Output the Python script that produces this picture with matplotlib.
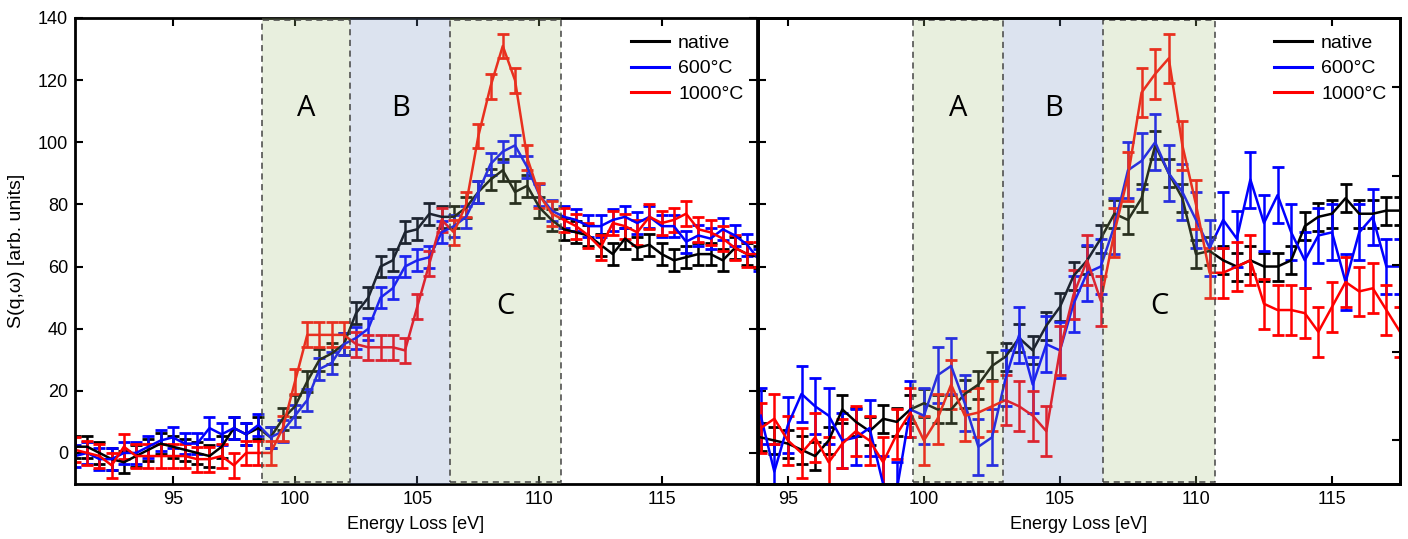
import matplotlib.pyplot as plt
from matplotlib.patches import Rectangle
from matplotlib.lines import Line2D
import numpy as np

plt.rcParams['font.family'] = ['Liberation Sans', 'DejaVu Sans']

# left panel: energy grid and spectra
e_left = np.arange(91.0, 119.01, 0.5)
native_left = [2, 2, 0, -2, -3, -1, 1, 3, 2, 1, 0, -1, 2, 8, 6, 8, 5, 11, 15, 23,
               30, 32, 35, 45, 50, 60, 62, 71, 72, 77, 76, 76, 79, 84, 88, 91, 84, 86, 79, 75,
               72, 71, 70, 67, 64, 69, 66, 67, 64, 62, 63, 64, 64, 62, 66, 64, 63]
t600_left = [-1, 0, -2, -2, 0, 0, 2, 4, 5, 3, 3, 8, 6, 8, 6, 9, 5, 7, 12, 17,
             27, 29, 35, 37, 40, 50, 53, 60, 62, 63, 71, 73, 76, 84, 93, 97, 99, 92, 83, 78,
             76, 75, 73, 73, 75, 76, 74, 76, 73, 73, 68, 70, 69, 72, 70, 67, 62]
t1000_left = [1, 0, -1, -4, 2, -1, -1, -1, -1, -1, -2, -2, -1, -4, 0, 0, 0, 8, 23, 38,
              38, 38, 38, 35, 34, 34, 34, 33, 47, 61, 75, 71, 80, 102, 118, 131, 120, 95, 83, 77,
              75, 73, 70, 66, 74, 73, 71, 76, 74, 75, 77, 72, 71, 69, 66, 64, 64]
err_left = [3.5, 3.5, 4.0]

# right panel
e_right = np.arange(94.0, 117.51, 0.5)
native_right = [5, 4, 3, 1, -1, 4, 14, 10, 7, 11, 10, 14, 16, 14, 14, 19, 22, 28, 31, 37,
                33, 41, 47, 57, 62, 69, 77, 75, 82, 99, 90, 82, 64, 65, 62, 60, 62, 60, 60, 62,
                73, 76, 77, 82, 77, 77, 78, 78]
t600_right = [12, -6, 9, 19, 15, 12, 4, 5, 8, -10, -12, 14, 12, 25, 28, 16, 2, 5, 24, 38,
              22, 35, 33, 48, 58, 60, 73, 91, 94, 100, 90, 84, 75, 66, 75, 69, 88, 74, 83, 71,
              62, 70, 71, 55, 71, 76, 60, 60]
t1000_right = [8, 11, 4, 0, 5, -3, 3, 7, 4, -3, 6, 13, 4, 11, 22, 12, 13, 15, 17, 15,
               12, 7, 33, 51, 62, 49, 71, 89, 116, 122, 127, 99, 80, 58, 58, 60, 62, 48, 46, 46,
               45, 39, 47, 55, 52, 53, 46, 39]
err_right = [4.5, 9.0, 8.0]

labels = ['native', '600°C', '1000°C']
colors = ['black', '#0000ff', '#ff0000']

regions_left = [(98.65, 102.25), (102.25, 106.35), (106.35, 110.9)]
regions_right = [(99.6, 102.9), (102.9, 106.6), (106.6, 110.7)]
region_names = ['A', 'B', 'C']
region_y = [111, 111, 47]

fig = plt.figure(figsize=(14.08, 5.39), dpi=100)
ax1 = fig.add_axes([75 / 1408, 55 / 539, 682 / 1408, 466 / 539])
ax2 = fig.add_axes([758 / 1408, 55 / 539, 642 / 1408, 466 / 539])


def draw_panel(ax, e, series, errs, regions):
    for ys, err, c in zip(series, errs, colors):
        ax.errorbar(e, ys, yerr=err, color=c, lw=1.8, elinewidth=1.8, capsize=4.5,
                    capthick=2, zorder=2)
    fills = ['#a7c37f', '#7793c3', '#a7c37f']
    for i, (x0, x1) in enumerate(regions):
        ax.axvspan(x0, x1, color=fills[i], alpha=0.25, lw=0, zorder=3)
        if i != 1:
            ax.add_patch(Rectangle((x0, -9.3), x1 - x0, 148.8, fill=False, ls=(0, (4, 3)),
                                   ec='#444444', lw=1.1, zorder=4))
        ax.text((x0 + x1) / 2, region_y[i], region_names[i], fontsize=21,
                family='Open Sans', ha='center', va='center', zorder=5)
    ax.set_ylim(-10, 140)
    ax.set_xticks([95, 100, 105, 110, 115])
    ax.tick_params(direction='in', top=True, right=True, length=6, width=1.5,
                   labelsize=13, pad=5)
    for s in ax.spines.values():
        s.set_linewidth(2)
    ax.set_xlabel('Energy Loss [eV]', fontsize=13, labelpad=6)
    handles = [Line2D([], [], color=c, lw=2.2) for c in colors]
    ax.legend(handles, labels, loc='upper right', bbox_to_anchor=(1.0, 0.995),
              frameon=False, fontsize=14, handlelength=2.0, handletextpad=0.45,
              labelspacing=0.42, borderaxespad=0.3)


draw_panel(ax1, e_left, [native_left, t600_left, t1000_left], err_left, regions_left)
ax1.set_xlim(91, 118.9)
ax1.set_yticks([0, 20, 40, 60, 80, 100, 120, 140])
ax1.set_ylabel('S(q,ω) [arb. units]', fontsize=14, labelpad=9)

draw_panel(ax2, e_right, [native_right, t600_right, t1000_right], err_right, regions_right)
ax2.set_xlim(93.9, 117.5)
ax2.set_yticks([0, 20, 40, 60, 80, 100, 120])
ax2.tick_params(labelleft=False, right=False)
ax2r = ax2.twinx()
ax2r.set_ylim(-10, 140)
ax2r.set_yticks([4.2, 32.6, 60.6, 89.0, 117.7])
ax2r.tick_params(direction='in', length=6, width=1.5, labelright=False)
for s in ax2r.spines.values():
    s.set_linewidth(2)

fig.savefig('out.png', dpi=100)
